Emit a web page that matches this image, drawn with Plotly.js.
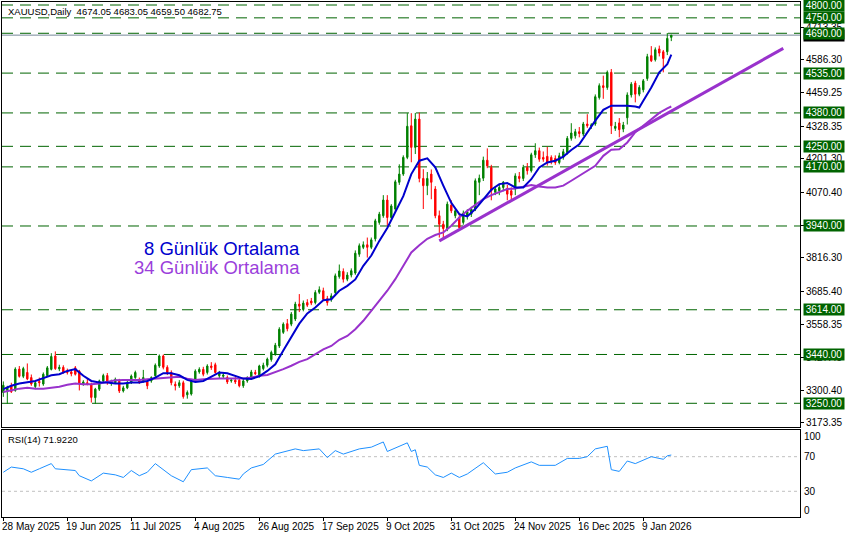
<!DOCTYPE html>
<html><head><meta charset="utf-8">
<script src="https://cdn.plot.ly/plotly-3.0.1.min.js"></script>
<style>html,body{margin:0;padding:0;background:#fff}#chart{width:846px;height:538px}</style>
</head><body><div id="chart"></div>
<script>
// ---- data (XAUUSD Daily) ----
const symbolTitle = 'XAUUSD,Daily  4674.05 4683.05 4659.50 4682.75';
const rsiTitle = 'RSI(14) 71.9220';
const opens = [
3292,3300,3318,3300,3383,3355,3370,3350,3315,3335,
3325,3358,3382,3434,3384,3390,3375,3372,3388,3375,
3325,3330,3324,3272,3305,3337,3358,3327,3330,3336,
3298,3310,3330,3350,3338,3337,3335,3337,3357,3395,
3434,3390,3370,3324,3318,3330,3283,3286,3343,3372,
3382,3370,3395,3400,3357,3355,3350,3337,3340,3340,
3318,3337,3350,3370,3357,3385,3398,3420,3442,3473,
3526,3560,3558,3578,3636,3615,3642,3648,3642,3682,
3688,3657,3655,3681,3743,3763,3733,3749,3757,3830,
3857,3867,3857,3890,3954,3980,4041,3973,4006,4110,
4142,4207,4330,4246,4356,4125,4097,4142,4084,3980,
3947,3930,4021,3980,3973,3954,3978,3986,4006,4110,
4126,4196,4168,4071,4077,4090,4086,4077,4084,4133,
4125,4168,4155,4217,4233,4207,4211,4207,4203,4187,
4207,4226,4281,4291,4307,4298,4337,4330,4337,4440,
4486,4479,4538,4320,4341,4317,4361,4450,4496,4453,
4470,4514,4603,4587,4629,4618,4618,4674.05];
const highs = [
3335,3318,3330,3390,3395,3392,3405,3362,3338,3350,
3370,3395,3445,3452,3400,3398,3385,3380,3395,3380,
3340,3345,3330,3310,3342,3365,3368,3342,3350,3345,
3318,3338,3362,3377,3350,3380,3345,3355,3405,3440,
3440,3398,3378,3335,3340,3338,3300,3345,3382,3390,
3392,3402,3410,3408,3376,3368,3358,3348,3352,3348,
3345,3355,3380,3380,3400,3408,3428,3455,3485,3546,
3565,3578,3605,3645,3675,3650,3655,3660,3690,3705,
3700,3668,3678,3755,3790,3775,3760,3775,3845,3872,
3880,3895,3895,3968,3995,4060,4060,4025,4120,4180,
4215,4379,4379,4380,4381,4161,4150,4160,4095,4000,
3960,4035,4040,4010,3985,4000,4005,4015,4125,4140,
4210,4242,4178,4095,4100,4115,4100,4090,4145,4150,
4178,4185,4225,4262,4245,4230,4248,4215,4215,4225,
4240,4290,4340,4318,4325,4345,4375,4340,4452,4495,
4525,4545,4551,4345,4360,4345,4460,4500,4505,4488,
4512,4610,4640,4635,4642,4625,4691,4683.05];
const lows = [
3275,3248,3290,3295,3350,3348,3340,3318,3305,3315,
3318,3352,3378,3380,3375,3365,3362,3355,3358,3300,
3318,3320,3253,3248,3298,3330,3322,3318,3325,3290,
3292,3305,3325,3345,3325,3330,3305,3330,3350,3388,
3382,3360,3320,3300,3310,3268,3268,3280,3338,3365,
3355,3362,3380,3365,3348,3345,3325,3330,3325,3312,
3310,3330,3342,3360,3350,3378,3390,3412,3435,3465,
3520,3530,3550,3570,3605,3608,3625,3632,3635,3675,
3648,3630,3645,3672,3735,3720,3725,3740,3750,3820,
3850,3817,3850,3880,3945,3972,3941,3965,3995,4100,
4135,4200,4188,4220,4110,4006,4060,4044,3970,3895,
3886,3920,3990,3970,3925,3945,3965,3975,3998,4060,
4115,4165,4040,4060,4060,4075,4040,4035,4060,4110,
4115,4140,4148,4205,4190,4190,4175,4180,4178,4180,
4198,4218,4272,4280,4285,4290,4322,4318,4330,4432,
4435,4470,4298,4310,4285,4305,4335,4440,4421,4445,
4460,4505,4578,4580,4600,4538,4605,4659.50];
const closes = [
3320,3312,3295,3383,3355,3385,3345,3325,3330,3330,
3363,3388,3432,3385,3390,3372,3370,3365,3363,3325,
3333,3325,3273,3305,3337,3358,3330,3336,3343,3298,
3310,3330,3356,3370,3332,3350,3318,3350,3398,3434,
3390,3370,3330,3318,3330,3276,3292,3337,3375,3382,
3363,3395,3389,3370,3370,3360,3333,3340,3333,3318,
3337,3350,3372,3365,3395,3398,3422,3448,3476,3538,
3558,3540,3597,3636,3628,3640,3632,3640,3681,3692,
3655,3642,3668,3746,3765,3733,3749,3766,3834,3863,
3867,3857,3886,3960,3986,4041,3973,4018,4112,4142,
4207,4328,4246,4356,4125,4097,4125,4110,3980,3947,
3930,4025,3999,3999,3934,3990,3995,4006,4116,4126,
4196,4174,4077,4084,4090,4110,4064,4060,4135,4125,
4168,4155,4217,4233,4200,4200,4187,4194,4187,4213,
4229,4281,4302,4307,4300,4337,4330,4333,4443,4486,
4479,4538,4330,4328,4315,4333,4450,4492,4453,4479,
4505,4599,4583,4626,4613,4592,4670,4682.75];

const dateLabels = ['28 May 2025','19 Jun 2025','11 Jul 2025','4 Aug 2025','26 Aug 2025',
  '17 Sep 2025','9 Oct 2025','31 Oct 2025','24 Nov 2025','16 Dec 2025','9 Jan 2026'];
const dateLabelBars = [0,16,32,48,64,80,96,112,128,144,160];

const ma8Bars = [0,2,4,6,8,10,12,14,16,18,20,22,24,26,28,30,32,34,36,38,40,42,44,46,48,50,52,54,56,58,60,62,64,66,68,70,72,74,76,78,80,82,84,86,88,90,92,94,96,98,100,102,104,106,108,110,112,114,116,118,120,122,124,126,128,130,132,134,136,138,140,142,144,146,148,150,152,154,156,158,159,160,162,164,166,167];
const ma8Vals = [3305,3318,3327,3333,3337,3348,3359,3363,3376,3383,3357,3337,3331,3331,3327,3327,3331,3331,3337,3350,3367,3367,3359,3341,3333,3337,3354,3370,3367,3357,3346,3345,3355,3376,3402,3455,3505,3560,3600,3623,3651,3655,3688,3707,3732,3785,3825,3882,3932,3993,4056,4142,4194,4203,4168,4097,4030,3986,3977,4006,4045,4081,4103,4107,4090,4090,4122,4168,4187,4194,4210,4236,4258,4305,4350,4392,4408,4408,4408,4405,4401,4427,4479,4538,4570,4607];

const ma34Bars = [0,2,4,6,8,10,12,14,16,18,20,22,24,26,28,30,32,34,36,38,40,42,44,46,48,50,52,54,56,58,60,62,64,66,68,70,72,74,76,78,80,82,84,86,88,90,92,94,96,98,100,102,104,106,108,110,112,114,116,118,120,122,124,126,128,130,132,134,136,138,140,142,144,146,148,150,152,154,156,158,160,162,164,166,167];
const ma34Vals = [3294,3301,3307,3310,3307,3307,3311,3314,3322,3327,3324,3324,3327,3335,3340,3341,3341,3341,3344,3346,3350,3350,3353,3346,3341,3344,3346,3346,3346,3346,3346,3350,3357,3360,3370,3383,3396,3411,3422,3441,3460,3473,3497,3512,3538,3571,3610,3649,3688,3733,3785,3837,3865,3890,3905,3915,3941,3973,3999,4021,4045,4060,4071,4084,4086,4094,4099,4094,4090,4090,4097,4116,4135,4155,4174,4213,4237,4239,4265,4305,4330,4355,4380,4398,4405];

const rsiBars = [0,2,5,7,9,12,13,18,19,22,25,28,30,32,34,36,38,42,45,47,51,53,56,59,60,62,65,68,73,75,79,81,83,85,89,92,95,96,101,102,103,104,106,108,110,112,114,116,120,123,126,128,132,134,138,141,144,146,148,151,152,154,156,158,162,165,166,167];
const rsiVals = [52,58,56,52,56,62,56,54,48,42,51,49,46,54,48,52,62,48,41,55,57,48,46,44,50,57,61,73,79,77,79,69,77,73,79,81,87,76,86,76,78,60,58,49,46,51,46,50,63,50,52,57,64,60,60,68,68,70,79,82,55,53,65,62,70,67,71,71.92];

const trendBars = [109,195];
const trendVals = [3882,4631];

const levels = [4800,4750,4690,4535,4380,4250,4170,3940,3614,3440,3250];
const priceTicks = [4713.35,4586.30,4459.25,4328.35,4201.30,4070.40,3943.35,3816.30,3685.40,3558.35,3427.45,3300.40,3173.35];
const lastPrice = 4682.75;
const rsiLevels = [70,30];
const rsiAxisLabels = ['100','70','30','0'];

// ---- styles ----
const FONT = 'Liberation Sans, Arial, sans-serif';
const GREEN = '#006400';
const bars = opens.map((_, i) => i);
const XR = [-0.33, 199.18];

const traces = [
  {type:'candlestick', x:bars, open:opens, high:highs, low:lows, close:closes,
   xaxis:'x', yaxis:'y', whiskerwidth:0, hoverinfo:'skip',
   increasing:{line:{color:'#008000',width:1}, fillcolor:'#008000'},
   decreasing:{line:{color:'#ff0000',width:1}, fillcolor:'#ff0000'}},
  {type:'scatter', mode:'lines', x:ma34Bars, y:ma34Vals, xaxis:'x', yaxis:'y',
   line:{color:'#9932CC', width:2}, hoverinfo:'skip'},
  {type:'scatter', mode:'lines', x:ma8Bars, y:ma8Vals, xaxis:'x', yaxis:'y',
   line:{color:'#0000CD', width:2}, hoverinfo:'skip'},
  {type:'scatter', mode:'lines', x:trendBars, y:trendVals, xaxis:'x', yaxis:'y',
   line:{color:'#9932CC', width:3}, hoverinfo:'skip'},
  {type:'scatter', mode:'lines', x:rsiBars, y:rsiVals, xaxis:'x2', yaxis:'y2',
   line:{color:'#1E90FF', width:1}, hoverinfo:'skip'}
];

const shapes = [];
levels.forEach(v => shapes.push({type:'line', xref:'paper', x0:0, x1:1, yref:'y', y0:v, y1:v,
  layer:'below', line:{color:GREEN, width:1, dash:'11px,7px'}}));
shapes.push({type:'line', xref:'paper', x0:0, x1:1, yref:'y', y0:lastPrice, y1:lastPrice,
  layer:'below', line:{color:'#778899', width:1}});
rsiLevels.forEach(v => shapes.push({type:'line', xref:'paper', x0:0, x1:1, yref:'y2', y0:v, y1:v,
  layer:'below', line:{color:'#c0c0c0', width:1, dash:'3px,3px'}}));

const annotations = [];
annotations.push({xref:'paper', yref:'paper', x:0, y:1, xanchor:'left', yanchor:'top',
  xshift:4, yshift:-2, showarrow:false, text:symbolTitle, font:{family:FONT, size:9.5, color:'#000'}});
annotations.push({xref:'paper', yref:'y2 domain', x:0, y:1, xanchor:'left', yanchor:'top',
  xshift:4, yshift:-2, showarrow:false, text:rsiTitle, font:{family:FONT, size:9.5, color:'#000'}});
annotations.push({xref:'paper', yref:'y', x:0.3757, y:3854, xanchor:'right', yanchor:'middle',
  showarrow:false, text:'8 Günlük Ortalama', font:{family:FONT, size:18.5, color:'#0000CD'}});
annotations.push({xref:'paper', yref:'y', x:0.3757, y:3779, xanchor:'right', yanchor:'middle',
  showarrow:false, text:'34 Günlük Ortalama', font:{family:FONT, size:18.5, color:'#9B3FDB'}});
// last price (black) tag, then level tags over it
annotations.push({xref:'paper', yref:'y', x:1, y:lastPrice, xanchor:'left', yanchor:'middle',
  xshift:3, showarrow:false, text:lastPrice.toFixed(2), bgcolor:'#000', borderpad:0, width:40,
  font:{family:FONT, size:10, color:'#fff'}});
levels.forEach(v => annotations.push({xref:'paper', yref:'y', x:1, y:v, xanchor:'left', yanchor:'middle',
  xshift:3, showarrow:false, text:v.toFixed(2), bgcolor:GREEN, borderpad:0, width:40,
  font:{family:FONT, size:10, color:'#fff'}}));
const rsiLabelPos = [93, 70, 30, 7.6];
rsiAxisLabels.forEach((t, i) => annotations.push({xref:'paper', yref:'y2', x:1, y:rsiLabelPos[i],
  xanchor:'left', yanchor:'middle', xshift:2, showarrow:false, text:t,
  font:{family:FONT, size:10, color:'#000'}}));
dateLabels.forEach((t, i) => annotations.push({xref:'x2', yref:'paper', x:dateLabelBars[i], y:0,
  xanchor:'left', yanchor:'top', xshift:-3, yshift:-2, showarrow:false, text:t,
  font:{family:FONT, size:10, color:'#000'}}));

const layout = {
  width:846, height:538, paper_bgcolor:'#fff', plot_bgcolor:'#fff',
  margin:{l:2, r:46, t:2, b:21, pad:0}, showlegend:false, boxgap:0.5,
  font:{family:FONT, size:10, color:'#000'},
  xaxis:{domain:[0,1], range:XR, anchor:'y', showticklabels:false, showgrid:false, zeroline:false,
    showline:true, mirror:true, linecolor:'#000', linewidth:1, ticks:'', rangeslider:{visible:false}, fixedrange:true},
  yaxis:{domain:[0.1738,1], range:[3155.8,4811.7], side:'right', anchor:'x',
    tickvals:priceTicks, ticktext:priceTicks.map(v=>v.toFixed(2)), ticks:'outside', ticklen:3,
    tickcolor:'#000', showgrid:false, zeroline:false, showline:true, mirror:true,
    linecolor:'#000', linewidth:1, tickfont:{family:FONT, size:10, color:'#000'}, fixedrange:true},
  xaxis2:{domain:[0,1], range:XR, anchor:'y2', showticklabels:false, showgrid:false, zeroline:false,
    showline:true, mirror:true, linecolor:'#000', linewidth:1, tickvals:dateLabelBars,
    ticks:'outside', ticklen:3, tickcolor:'#000', fixedrange:true},
  yaxis2:{domain:[0,0.1699], range:[0.3,101.4], side:'right', anchor:'x2', showticklabels:false,
    ticks:'', showgrid:false, zeroline:false, showline:true, mirror:true, linecolor:'#000', linewidth:1, fixedrange:true},
  shapes:shapes, annotations:annotations
};

Plotly.newPlot('chart', traces, layout, {staticPlot:true, displayModeBar:false});
</script>
</body></html>
